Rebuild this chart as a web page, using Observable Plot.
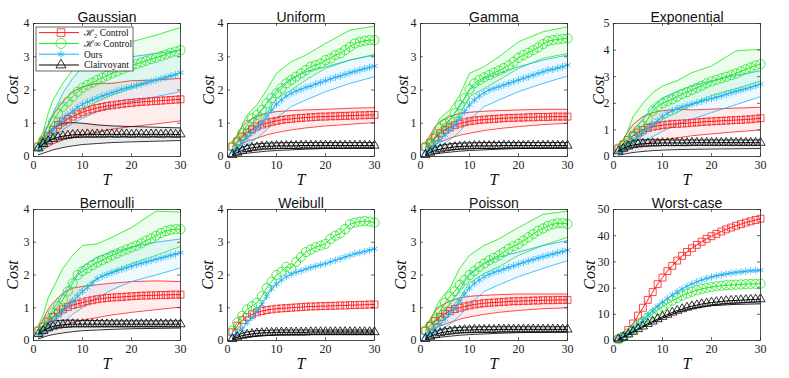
<!DOCTYPE html>
<html><head><meta charset="utf-8">
<script src="https://cdn.jsdelivr.net/npm/d3@7"></script>
<script src="https://cdn.jsdelivr.net/npm/@observablehq/plot@0.6"></script>
<style>
body{margin:0;background:#fff;}
#root{position:relative;width:789px;height:378px;overflow:hidden;background:#fff;}
.panel{position:absolute;}
</style></head><body><div id="root"></div><script>
// ---------- axes / tick labels ----------
const T = d3.range(1, 31);
const bandT = [1,2,3,4,6,8,10,13,16,20,25,30];
const xTicks = [0,10,20,30];
const yTicks4 = [0,1,2,3,4];
const yTicks5 = [0,1,2,3,4,5];
const yTicks50 = [0,10,20,30,40,50];
const titles = ["Gaussian","Uniform","Gamma","Exponential","Bernoulli","Weibull","Poisson","Worst-case"];
const seriesNames = ["\u210B\u2082 Control","\u210B\u221E Control","Ours","Clairvoyant"];

// ---------- Gaussian ----------
const gau_h2 = [0.30,0.45,0.62,0.80,0.95,1.05,1.13,1.20,1.27,1.33,1.38,1.42,1.46,1.49,1.52,1.54,1.56,1.58,1.60,1.61,1.63,1.64,1.65,1.66,1.67,1.68,1.69,1.70,1.71,1.72];
const gau_h2_lo = [0.15,0.22,0.30,0.38,0.50,0.58,0.64,0.73,0.82,0.90,0.98,1.07];
const gau_h2_hi = [0.40,0.65,0.95,1.25,1.65,1.95,2.10,2.20,2.20,2.28,2.30,2.35];
const gau_hinf = [0.30,0.48,0.75,1.05,1.30,1.50,1.65,1.80,1.95,2.07,2.15,2.22,2.30,2.37,2.43,2.50,2.56,2.62,2.68,2.73,2.78,2.83,2.88,2.93,2.97,3.02,3.07,3.12,3.16,3.20];
const gau_hinf_lo = [0.20,0.30,0.45,0.60,0.90,1.15,1.40,1.65,1.85,2.05,2.30,2.52];
const gau_hinf_hi = [0.50,0.75,1.30,1.70,2.20,2.60,2.85,3.05,3.25,3.45,3.65,3.88];
const gau_ours = [0.25,0.40,0.60,0.80,0.98,1.12,1.25,1.37,1.48,1.57,1.64,1.70,1.76,1.82,1.87,1.92,1.97,2.02,2.06,2.10,2.14,2.18,2.22,2.26,2.30,2.34,2.38,2.42,2.46,2.52];
const gau_ours_lo = [0.15,0.25,0.40,0.55,0.80,1.00,1.15,1.35,1.50,1.65,1.80,1.95];
const gau_ours_hi = [0.35,0.60,0.95,1.30,1.90,2.35,2.70,2.85,2.95,3.00,3.10,3.20];
const gau_clv = [0.25,0.38,0.46,0.53,0.58,0.61,0.63,0.65,0.66,0.66,0.67,0.66,0.67,0.66,0.67,0.67,0.66,0.67,0.67,0.66,0.67,0.67,0.66,0.67,0.67,0.66,0.67,0.67,0.66,0.67];
const gau_clv_lo = [0.05,0.10,0.15,0.20,0.27,0.32,0.36,0.39,0.42,0.44,0.46,0.48];
const gau_clv_hi = [0.35,0.55,0.70,0.85,1.00,1.02,1.00,0.95,0.92,0.90,0.88,0.86];

// ---------- Uniform ----------
const uni_h2 = [0.30,0.45,0.60,0.72,0.82,0.90,0.96,1.00,1.04,1.07,1.10,1.12,1.13,1.15,1.16,1.17,1.18,1.19,1.20,1.20,1.21,1.21,1.22,1.22,1.23,1.23,1.24,1.24,1.25,1.25];
const uni_h2_lo = [0.20,0.30,0.38,0.45,0.55,0.65,0.72,0.80,0.86,0.92,0.97,1.02];
const uni_h2_hi = [0.40,0.65,0.90,1.05,1.20,1.30,1.35,1.38,1.40,1.42,1.45,1.47];
const uni_hinf = [0.30,0.45,0.70,0.95,1.15,1.25,1.40,1.60,1.75,1.90,2.05,2.20,2.30,2.40,2.50,2.60,2.70,2.75,2.80,2.90,2.95,3.05,3.10,3.20,3.30,3.40,3.45,3.48,3.50,3.50];
const uni_hinf_lo = [0.20,0.30,0.45,0.65,0.95,1.30,1.75,2.00,2.30,2.65,2.90,3.07];
const uni_hinf_hi = [0.45,0.60,0.95,1.25,1.55,2.00,2.50,2.85,3.05,3.40,3.80,3.92];
const uni_ours = [0.15,0.25,0.40,0.55,0.72,0.85,1.00,1.20,1.40,1.58,1.70,1.82,1.90,1.97,2.02,2.08,2.12,2.18,2.23,2.28,2.33,2.38,2.42,2.47,2.52,2.56,2.60,2.64,2.68,2.72];
const uni_ours_lo = [0.10,0.15,0.25,0.35,0.55,0.80,1.15,1.50,1.70,1.95,2.20,2.40];
const uni_ours_hi = [0.25,0.40,0.60,0.80,1.20,1.60,2.00,2.35,2.55,2.70,2.90,3.05];
const uni_clv = [0.05,0.12,0.18,0.23,0.26,0.28,0.30,0.31,0.31,0.32,0.32,0.32,0.32,0.32,0.33,0.33,0.33,0.33,0.33,0.33,0.33,0.33,0.33,0.33,0.33,0.33,0.33,0.33,0.33,0.33];
const uni_clv_lo = [0.02,0.05,0.08,0.10,0.13,0.16,0.18,0.20,0.22,0.24,0.25,0.26];
const uni_clv_hi = [0.10,0.20,0.28,0.33,0.38,0.40,0.41,0.42,0.42,0.42,0.42,0.42];

// ---------- Gamma ----------
const gam_h2 = [0.28,0.42,0.57,0.70,0.80,0.88,0.94,0.99,1.03,1.06,1.08,1.10,1.11,1.12,1.13,1.14,1.15,1.16,1.16,1.17,1.17,1.18,1.18,1.19,1.19,1.19,1.20,1.20,1.20,1.20];
const gam_h2_lo = [0.18,0.28,0.36,0.44,0.55,0.64,0.70,0.78,0.84,0.90,0.96,1.00];
const gam_h2_hi = [0.40,0.65,0.90,1.05,1.20,1.30,1.33,1.36,1.38,1.40,1.42,1.42];
const gam_hinf = [0.30,0.40,0.60,0.85,1.00,1.10,1.30,1.55,1.75,2.02,2.20,2.30,2.38,2.45,2.52,2.58,2.66,2.74,2.85,2.97,3.05,3.12,3.20,3.28,3.38,3.47,3.50,3.52,3.54,3.55];
const gam_hinf_lo = [0.20,0.30,0.45,0.60,0.90,1.25,1.80,2.05,2.30,2.65,2.95,3.10];
const gam_hinf_hi = [0.40,0.50,0.85,1.15,1.40,1.85,2.50,2.70,3.00,3.45,3.75,3.90];
const gam_ours = [0.15,0.22,0.35,0.50,0.65,0.80,0.95,1.15,1.35,1.55,1.70,1.82,1.92,2.00,2.05,2.10,2.15,2.20,2.25,2.30,2.35,2.40,2.45,2.50,2.55,2.60,2.62,2.66,2.70,2.75];
const gam_ours_lo = [0.10,0.15,0.22,0.32,0.50,0.75,1.10,1.50,1.70,1.95,2.20,2.42];
const gam_ours_hi = [0.25,0.35,0.55,0.75,1.10,1.50,2.00,2.35,2.50,2.70,2.90,3.05];
const gam_clv = [0.05,0.12,0.18,0.22,0.25,0.27,0.29,0.30,0.31,0.31,0.32,0.32,0.32,0.32,0.32,0.32,0.33,0.33,0.33,0.33,0.33,0.33,0.33,0.33,0.33,0.33,0.33,0.33,0.33,0.33];
const gam_clv_lo = [0.02,0.05,0.08,0.10,0.13,0.16,0.18,0.20,0.22,0.24,0.25,0.26];
const gam_clv_hi = [0.10,0.20,0.28,0.33,0.38,0.40,0.41,0.42,0.42,0.42,0.42,0.42];

// ---------- Exponential ----------
const exp_h2 = [0.30,0.45,0.62,0.78,0.90,1.00,1.07,1.12,1.15,1.18,1.20,1.22,1.23,1.24,1.25,1.27,1.28,1.30,1.31,1.32,1.33,1.34,1.35,1.36,1.37,1.38,1.39,1.40,1.42,1.44];
const exp_h2_lo = [0.15,0.20,0.28,0.35,0.45,0.55,0.62,0.70,0.78,0.85,0.93,1.00];
const exp_h2_hi = [0.40,0.65,0.95,1.20,1.50,1.65,1.72,1.78,1.75,1.78,1.82,1.85];
const exp_hinf = [0.30,0.42,0.60,0.80,0.98,1.15,1.40,1.72,1.88,2.00,2.08,2.15,2.25,2.35,2.42,2.50,2.58,2.66,2.75,2.82,2.88,2.94,3.00,3.06,3.12,3.20,3.28,3.35,3.42,3.47];
const exp_hinf_lo = [0.20,0.30,0.40,0.50,0.80,1.10,1.40,1.65,1.95,2.30,2.55,2.84];
const exp_hinf_hi = [0.45,0.60,1.00,1.50,2.00,2.40,2.65,2.85,3.15,3.40,3.97,4.03];
const exp_ours = [0.20,0.30,0.45,0.60,0.75,0.90,1.05,1.20,1.35,1.50,1.62,1.72,1.80,1.86,1.92,1.97,2.02,2.08,2.13,2.18,2.23,2.28,2.34,2.40,2.45,2.50,2.55,2.60,2.66,2.72];
const exp_ours_lo = [0.10,0.15,0.25,0.35,0.55,0.75,0.95,1.20,1.40,1.65,1.95,2.25];
const exp_ours_hi = [0.30,0.45,0.70,0.95,1.40,1.85,2.20,2.45,2.65,2.85,3.05,3.22];
const exp_clv = [0.20,0.30,0.38,0.43,0.46,0.48,0.49,0.50,0.50,0.51,0.51,0.51,0.51,0.51,0.51,0.52,0.52,0.52,0.52,0.52,0.52,0.52,0.52,0.52,0.52,0.52,0.52,0.52,0.52,0.52];
const exp_clv_lo = [0.05,0.08,0.12,0.15,0.19,0.22,0.24,0.26,0.27,0.28,0.29,0.30];
const exp_clv_hi = [0.30,0.45,0.55,0.60,0.63,0.63,0.63,0.62,0.62,0.62,0.62,0.62];

// ---------- Bernoulli ----------
const ber_h2 = [0.30,0.42,0.58,0.72,0.85,0.95,1.02,1.08,1.12,1.16,1.20,1.23,1.26,1.28,1.30,1.31,1.32,1.33,1.34,1.35,1.36,1.37,1.37,1.38,1.38,1.39,1.39,1.40,1.40,1.40];
const ber_h2_lo = [0.15,0.20,0.28,0.35,0.45,0.55,0.62,0.70,0.78,0.86,0.94,1.02];
const ber_h2_hi = [0.40,0.65,0.95,1.15,1.45,1.60,1.65,1.70,1.75,1.80,1.82,1.80];
const ber_hinf = [0.30,0.42,0.62,0.85,1.05,1.25,1.50,1.75,2.00,2.12,2.20,2.30,2.38,2.45,2.52,2.60,2.66,2.72,2.78,2.84,2.90,2.97,3.05,3.12,3.20,3.28,3.34,3.38,3.40,3.40];
const ber_hinf_lo = [0.20,0.30,0.45,0.60,0.95,1.30,1.60,1.90,2.10,2.35,2.60,2.87];
const ber_hinf_hi = [0.45,0.80,1.30,1.60,2.20,2.60,2.90,2.95,3.15,3.45,3.95,3.92];
const ber_ours = [0.20,0.30,0.45,0.60,0.75,0.90,1.05,1.20,1.35,1.50,1.62,1.75,1.88,1.96,2.02,2.07,2.12,2.17,2.22,2.27,2.32,2.36,2.40,2.44,2.48,2.52,2.56,2.60,2.64,2.68];
const ber_ours_lo = [0.10,0.15,0.25,0.35,0.55,0.80,1.00,1.30,1.55,1.80,2.00,2.22];
const ber_ours_hi = [0.30,0.45,0.70,0.95,1.40,1.85,2.25,2.55,2.70,2.85,3.00,3.10];
const ber_clv = [0.20,0.30,0.38,0.43,0.46,0.48,0.49,0.50,0.50,0.50,0.50,0.50,0.50,0.50,0.50,0.50,0.50,0.50,0.50,0.50,0.50,0.50,0.50,0.50,0.50,0.50,0.50,0.50,0.50,0.50];
const ber_clv_lo = [0.05,0.10,0.15,0.18,0.23,0.27,0.30,0.32,0.34,0.36,0.37,0.38];
const ber_clv_hi = [0.30,0.45,0.55,0.60,0.62,0.62,0.61,0.61,0.60,0.60,0.60,0.60];

// ---------- Weibull ----------
const wei_h2 = [0.25,0.45,0.62,0.72,0.80,0.86,0.90,0.93,0.95,0.97,0.98,0.99,1.00,1.01,1.02,1.03,1.04,1.04,1.05,1.05,1.06,1.06,1.07,1.07,1.08,1.08,1.09,1.09,1.10,1.10];
const wei_hinf = [0.30,0.55,0.75,0.95,1.05,1.15,1.35,1.60,1.80,2.00,2.10,2.25,2.20,2.40,2.55,2.70,2.78,2.85,2.90,2.95,3.10,3.20,3.27,3.40,3.55,3.60,3.63,3.65,3.63,3.60];
const wei_ours = [0.15,0.25,0.35,0.55,0.70,0.90,1.10,1.35,1.58,1.72,1.85,1.95,2.02,2.08,2.13,2.18,2.23,2.27,2.31,2.35,2.40,2.45,2.50,2.55,2.60,2.65,2.68,2.72,2.76,2.80];
const wei_clv = [0.05,0.10,0.15,0.18,0.20,0.22,0.23,0.24,0.24,0.25,0.25,0.25,0.25,0.25,0.25,0.25,0.26,0.26,0.26,0.26,0.26,0.26,0.26,0.26,0.26,0.26,0.26,0.26,0.26,0.26];
const wei_clv_lo = [0.02,0.05,0.08,0.10,0.13,0.15,0.17,0.18,0.19,0.20,0.20,0.20];
const wei_clv_hi = [0.08,0.15,0.22,0.26,0.30,0.31,0.32,0.32,0.32,0.32,0.32,0.32];

// ---------- Poisson ----------
const poi_h2 = [0.30,0.45,0.60,0.72,0.82,0.90,0.96,1.00,1.04,1.07,1.10,1.12,1.14,1.15,1.16,1.17,1.18,1.19,1.20,1.20,1.21,1.21,1.22,1.22,1.23,1.23,1.23,1.24,1.24,1.24];
const poi_h2_lo = [0.20,0.30,0.38,0.45,0.55,0.65,0.72,0.80,0.86,0.92,0.97,1.00];
const poi_h2_hi = [0.40,0.65,0.90,1.05,1.20,1.30,1.35,1.38,1.40,1.42,1.42,1.42];
const poi_hinf = [0.30,0.45,0.65,0.90,1.15,1.35,1.50,1.70,1.85,2.00,2.12,2.25,2.35,2.45,2.52,2.60,2.70,2.80,2.88,2.95,3.05,3.15,3.25,3.35,3.42,3.50,3.55,3.58,3.58,3.56];
const poi_hinf_lo = [0.20,0.30,0.45,0.60,0.95,1.30,1.75,2.05,2.25,2.60,2.90,3.15];
const poi_hinf_hi = [0.45,0.60,0.95,1.25,1.60,2.20,2.60,2.90,3.10,3.45,3.85,3.95];
const poi_ours = [0.15,0.22,0.35,0.50,0.65,0.82,1.00,1.20,1.42,1.60,1.75,1.85,1.95,2.02,2.08,2.13,2.18,2.23,2.28,2.33,2.38,2.43,2.47,2.52,2.56,2.60,2.64,2.68,2.72,2.76];
const poi_ours_lo = [0.10,0.15,0.22,0.32,0.50,0.75,1.10,1.50,1.70,1.95,2.20,2.44];
const poi_ours_hi = [0.25,0.35,0.55,0.75,1.10,1.55,2.05,2.35,2.55,2.70,2.90,3.05];
const poi_clv = [0.05,0.12,0.18,0.23,0.26,0.28,0.30,0.31,0.32,0.32,0.33,0.33,0.33,0.33,0.33,0.34,0.34,0.34,0.34,0.34,0.34,0.34,0.34,0.34,0.34,0.34,0.34,0.34,0.34,0.34];
const poi_clv_lo = [0.02,0.05,0.08,0.10,0.13,0.16,0.18,0.20,0.22,0.24,0.25,0.26];
const poi_clv_hi = [0.10,0.20,0.28,0.33,0.38,0.40,0.41,0.42,0.42,0.42,0.42,0.42];

// ---------- Worst-case ----------
const wor_h2 = [0.5,1.5,4.0,6.5,9.5,12.5,15.5,18.5,21.5,24.0,26.5,28.5,30.5,32.3,33.8,35.2,36.5,37.7,38.8,39.8,40.7,41.6,42.4,43.1,43.8,44.4,45.0,45.5,46.0,46.5];
const wor_hinf = [0.5,1.5,2.8,4.3,5.8,7.3,8.8,10.2,11.6,12.9,14.1,15.2,16.2,17.1,17.9,18.6,19.2,19.7,20.1,20.4,20.7,20.9,21.1,21.2,21.3,21.4,21.5,21.6,21.6,21.7];
const wor_ours = [0.5,1.5,3.0,4.5,6.0,7.8,9.6,11.3,13.0,14.6,16.0,17.4,18.6,19.7,20.7,21.6,22.4,23.1,23.7,24.2,24.7,25.1,25.4,25.7,26.0,26.2,26.4,26.6,26.7,26.8];
const wor_clv = [0.5,1.3,2.4,3.4,4.4,5.4,6.4,7.3,8.2,9.1,9.9,10.7,11.4,12.0,12.6,13.1,13.5,13.9,14.2,14.5,14.7,14.9,15.1,15.2,15.3,15.4,15.5,15.6,15.7,15.8];
const wor_clv_lo = [0.3,1.0,2.0,3.0,5.0,6.8,8.5,10.8,12.2,13.3,13.8,14.0];

// ---------- assemble ----------
const panels = [
  {yTicks: yTicks4, series: [[gau_h2,gau_h2_lo,gau_h2_hi],[gau_hinf,gau_hinf_lo,gau_hinf_hi],[gau_ours,gau_ours_lo,gau_ours_hi],[gau_clv,gau_clv_lo,gau_clv_hi]]},
  {yTicks: yTicks4, series: [[uni_h2,uni_h2_lo,uni_h2_hi],[uni_hinf,uni_hinf_lo,uni_hinf_hi],[uni_ours,uni_ours_lo,uni_ours_hi],[uni_clv,uni_clv_lo,uni_clv_hi]]},
  {yTicks: yTicks4, series: [[gam_h2,gam_h2_lo,gam_h2_hi],[gam_hinf,gam_hinf_lo,gam_hinf_hi],[gam_ours,gam_ours_lo,gam_ours_hi],[gam_clv,gam_clv_lo,gam_clv_hi]]},
  {yTicks: yTicks5, series: [[exp_h2,exp_h2_lo,exp_h2_hi],[exp_hinf,exp_hinf_lo,exp_hinf_hi],[exp_ours,exp_ours_lo,exp_ours_hi],[exp_clv,exp_clv_lo,exp_clv_hi]]},
  {yTicks: yTicks4, series: [[ber_h2,ber_h2_lo,ber_h2_hi],[ber_hinf,ber_hinf_lo,ber_hinf_hi],[ber_ours,ber_ours_lo,ber_ours_hi],[ber_clv,ber_clv_lo,ber_clv_hi]]},
  {yTicks: yTicks4, series: [[wei_h2,null,null],[wei_hinf,null,null],[wei_ours,null,null],[wei_clv,wei_clv_lo,wei_clv_hi]]},
  {yTicks: yTicks4, series: [[poi_h2,poi_h2_lo,poi_h2_hi],[poi_hinf,poi_hinf_lo,poi_hinf_hi],[poi_ours,poi_ours_lo,poi_ours_hi],[poi_clv,poi_clv_lo,poi_clv_hi]]},
  {yTicks: yTicks50, series: [[wor_h2,null,null],[wor_hinf,null,null],[wor_ours,null,null],[wor_clv,wor_clv_lo,null]]}
];

const colors = ["#ff1a1a","#1ee81e","#1eb0f5","#000000"];
const symbols = ["square","circle","asterisk","triangle"];
const radii = [3.9,4.6,3.4,3.4];
const frameLeft = [33,227,420,613];
const frameTop = [23,209];
const frameH = [133,131];
const frameW = 147;
const costDx = [-21,-19,-18,-15,-21,-20,-20,-24];
const serif = "'Liberation Serif','DejaVu Serif',serif";
const sans = "'Liberation Sans',Arial,sans-serif";
const axisColor = "#262626";

const root = document.getElementById("root");
const mL = 34, mR = 14, mT = 23, mB = 34;

panels.forEach((p, i) => {
  const col = i % 4, row = Math.floor(i / 4);
  const h = frameH[row];
  const ymax = p.yTicks[p.yTicks.length - 1];
  const marks = [];
  // bands
  p.series.forEach((s, k) => {
    const [m, lo, hi] = s;
    const c = colors[k];
    if (lo && hi) {
      const band = bandT.map((t, j) => ({t, lo: lo[j], hi: hi[j]}));
      marks.push(Plot.areaY(band, {x: "t", y1: "lo", y2: "hi", fill: c, fillOpacity: 0.08}));
      marks.push(Plot.lineY(band, {x: "t", y: "lo", stroke: c, strokeWidth: 0.8}));
      marks.push(Plot.lineY(band, {x: "t", y: "hi", stroke: c, strokeWidth: 0.8}));
    } else if (lo) {
      const band = bandT.map((t, j) => ({t, lo: lo[j]}));
      marks.push(Plot.lineY(band, {x: "t", y: "lo", stroke: c, strokeWidth: 0.9}));
    }
  });
  // means + markers
  p.series.forEach((s, k) => {
    const data = T.map((t, j) => ({t, v: s[0][j]}));
    marks.push(Plot.lineY(data, {x: "t", y: "v", stroke: colors[k], strokeWidth: 1}));
    marks.push(Plot.dot(data, {x: "t", y: "v", symbol: symbols[k], r: radii[k], stroke: colors[k], fill: "none", strokeWidth: 0.8}));
  });
  // frame, inward ticks
  marks.push(Plot.frame({stroke: axisColor, strokeWidth: 0.8}));
  marks.push(Plot.ruleX(xTicks, {x: d => d, insetTop: h - 3, stroke: axisColor, strokeWidth: 0.7}));
  marks.push(Plot.ruleX(xTicks, {x: d => d, insetBottom: h - 3, stroke: axisColor, strokeWidth: 0.7}));
  marks.push(Plot.ruleY(p.yTicks, {y: d => d, insetRight: frameW - 3, stroke: axisColor, strokeWidth: 0.7}));
  marks.push(Plot.ruleY(p.yTicks, {y: d => d, insetLeft: frameW - 3, stroke: axisColor, strokeWidth: 0.7}));
  marks.push(Plot.axisX({ticks: xTicks, tickFormat: d => String(d), tickSize: 0, tickPadding: 4, fontSize: 12, fontFamily: serif, label: null, color: "#222"}));
  marks.push(Plot.axisY({ticks: p.yTicks, tickFormat: d => String(d), tickSize: 0, tickPadding: 4, fontSize: 12, fontFamily: serif, label: null, color: "#222"}));
  // texts
  marks.push(Plot.text([titles[i]], {text: d => d, frameAnchor: "top", dy: -11, fontSize: 14, fontFamily: sans, fill: "#111"}));
  marks.push(Plot.text(["Cost"], {text: d => d, frameAnchor: "left", rotate: -90, dx: costDx[i], textAnchor: "middle", fontSize: 16, fontStyle: "italic", fontFamily: serif, fill: "#111"}));
  marks.push(Plot.text(["T"], {text: d => d, frameAnchor: "top", dy: h + 23, lineAnchor: "middle", fontSize: 16, fontStyle: "italic", fontFamily: serif, fill: "#111"}));

  const svg = Plot.plot({
    width: mL + frameW + mR,
    height: mT + h + mB,
    marginLeft: mL, marginRight: mR, marginTop: mT, marginBottom: mB,
    x: {domain: [0, 30]},
    y: {domain: [0, ymax]},
    style: {background: "transparent", overflow: "visible"},
    marks
  });
  const div = document.createElement("div");
  div.className = "panel";
  div.style.left = (frameLeft[col] - mL) + "px";
  div.style.top = (frameTop[row] - mT) + "px";
  div.appendChild(svg);
  root.appendChild(div);
});

// ---------- legend (Gaussian panel) ----------
const lg = d3.select(root).append("svg")
  .attr("width", 789).attr("height", 378)
  .style("position", "absolute").style("left", "0px").style("top", "0px");
lg.append("rect").attr("x", 36).attr("y", 27).attr("width", 97).attr("height", 44)
  .attr("fill", "#fff").attr("stroke", axisColor).attr("stroke-width", 0.7);
const symMap = {square: d3.symbolSquare, circle: d3.symbolCircle, asterisk: d3.symbolAsterisk, triangle: d3.symbolTriangle};
seriesNames.forEach((name, k) => {
  const y = 32.6 + k * 10.8;
  lg.append("line").attr("x1", 39).attr("x2", 79).attr("y1", y).attr("y2", y)
    .attr("stroke", colors[k]).attr("stroke-width", 1);
  lg.append("path").attr("transform", `translate(61,${y})`)
    .attr("d", d3.symbol(symMap[symbols[k]], Math.PI * radii[k] * radii[k] * 1.2)())
    .attr("fill", "none").attr("stroke", colors[k]).attr("stroke-width", 0.8);
  lg.append("text").attr("x", 84).attr("y", y).attr("dy", "0.35em")
    .attr("font-family", serif).attr("font-size", 9.5).attr("fill", "#111")
    .text(name);
});
</script></body></html>
